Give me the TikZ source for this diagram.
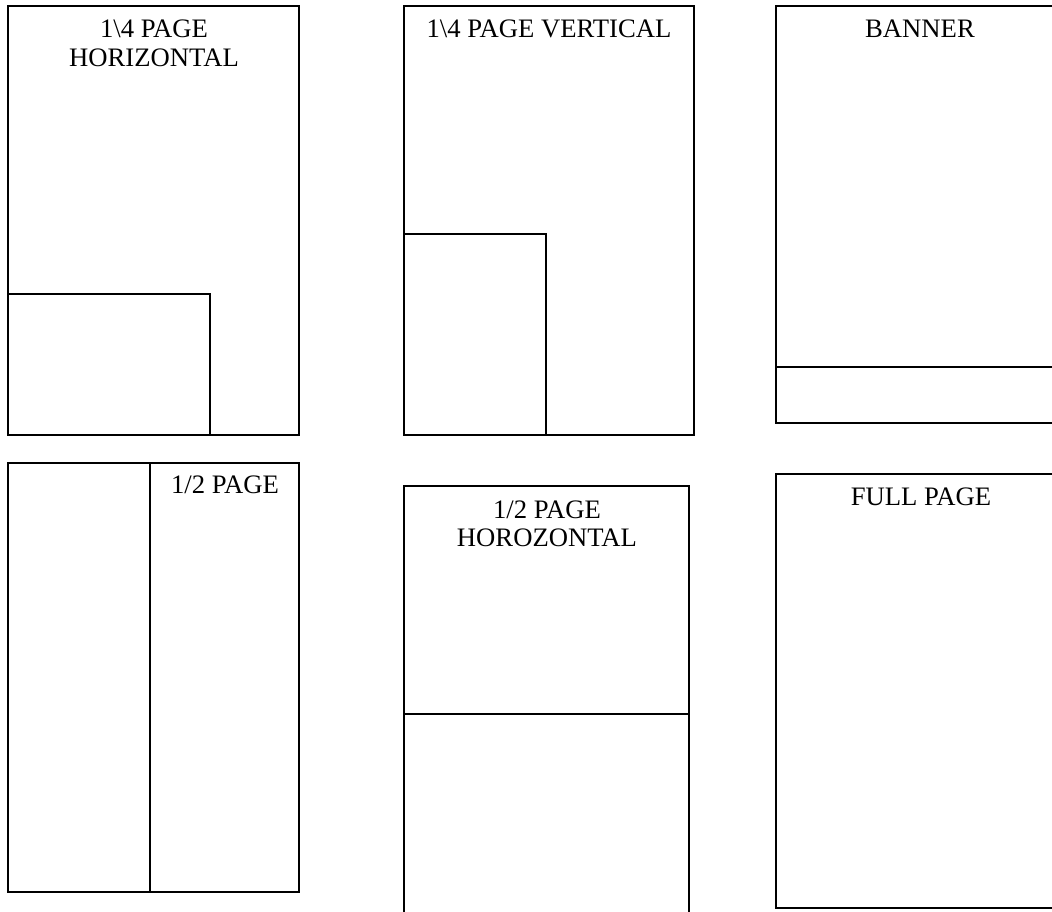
\documentclass[tikz,border=0pt]{standalone}
\usepackage{fontspec}
\setmainfont{Liberation Serif}
\usepackage{tikz}

\tikzset{
  sheet/.style={line width=2pt},
  caption/.style={font=\fontsize{20}{22}\selectfont, inner sep=0pt, anchor=base, align=center}
}

\begin{document}
\begin{tikzpicture}[x=0.75pt,y=-0.75pt]
        \useasboundingbox (0,0) rectangle (1052,911);
        \clip (0,0) rectangle (1052,911);
        % 1\4 page horizontal
        \draw[sheet] (8,6) rectangle (299,435);
        \draw[sheet] (8,294) rectangle (210,435);
        \node[caption] (qh1) at (154,37) {1\textbackslash 4 PAGE};
        \node[caption] (qh2) at (154,66) {HORIZONTAL};
        % 1\4 page vertical
        \draw[sheet] (404,6) rectangle (694,435);
        \draw[sheet] (404,234) rectangle (546,435);
        \node[caption] (qv) at (549,37) {1\textbackslash 4 PAGE VERTICAL};
        % banner
        \draw[sheet] (776,6) rectangle (1064,423);
        \draw[sheet] (776,367) -- (1064,367);
        \node[caption] (ban) at (920,37) {BANNER};
        % 1/2 page
        \draw[sheet] (8,463) rectangle (299,892);
        \draw[sheet] (150,463) -- (150,892);
        \node[caption] (hp) at (225,493) {1/2 PAGE};
        % 1/2 page horozontal
        \draw[sheet] (404,486) rectangle (689,930);
        \draw[sheet] (404,714) -- (689,714);
        \node[caption] (hh1) at (547,518) {1/2 PAGE};
        \node[caption] (hh2) at (547,546) {HOROZONTAL};
        % full page
        \draw[sheet] (776,474) rectangle (1064,908);
        \node[caption] (fp) at (921,505) {FULL PAGE};
    \end{tikzpicture}
\end{document}
